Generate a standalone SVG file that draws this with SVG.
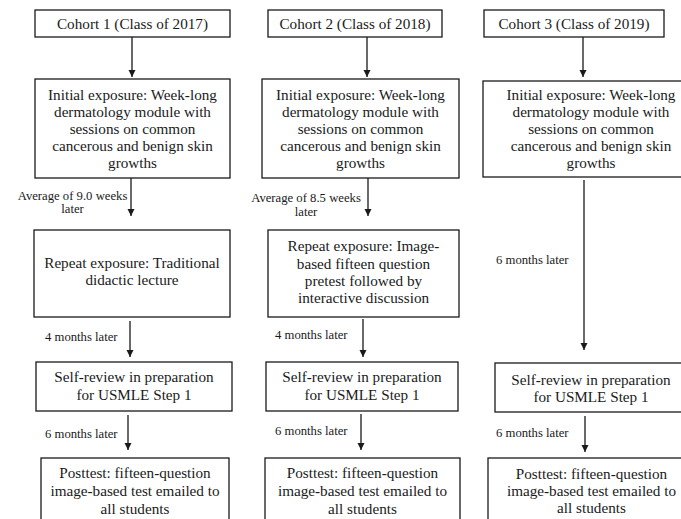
<svg xmlns="http://www.w3.org/2000/svg" width="681" height="519" viewBox="0 0 681 519">
<style>
.box{fill:#fff;stroke:#1a1a1a;stroke-width:1.3}
.t{font-family:'Liberation Serif','Times New Roman','DejaVu Serif',serif;font-size:15.2px;fill:#1a1a1a;text-anchor:middle}
.l{font-family:'Liberation Serif','Times New Roman','DejaVu Serif',serif;font-size:12.7px;fill:#1a1a1a}
.c{stroke:#1a1a1a;stroke-width:1.3;fill:none;marker-end:url(#ah)}
</style>
<defs>
<marker id="ah" markerWidth="8" markerHeight="8" refX="7" refY="4" orient="auto" markerUnits="userSpaceOnUse">
<path d="M0,0.5 L7,4 L0,7.5 Z" fill="#1a1a1a"/>
</marker>
</defs>
<rect width="681" height="519" fill="#fff"/>
<g id="connectors">
<line class="c" x1="132" y1="37" x2="132" y2="77"/>
<line class="c" x1="131" y1="178" x2="131" y2="216"/>
<line class="c" x1="130" y1="321" x2="130" y2="357"/>
<line class="c" x1="128" y1="415" x2="128" y2="450"/>
<line class="c" x1="367" y1="37" x2="367" y2="77"/>
<line class="c" x1="368" y1="178" x2="368" y2="216"/>
<line class="c" x1="363" y1="319" x2="363" y2="357"/>
<line class="c" x1="361" y1="414" x2="361" y2="450"/>
<line class="c" x1="583" y1="37" x2="583" y2="77"/>
<line class="c" x1="584" y1="180" x2="584" y2="350"/>
<line class="c" x1="585" y1="416" x2="585" y2="452"/>
<text class="l" x="72.5" y="200" text-anchor="middle">Average of 9.0 weeks</text>
<text class="l" x="72.5" y="213" text-anchor="middle">later</text>
<text class="l" x="45" y="341">4 months later</text>
<text class="l" x="45" y="438">6 months later</text>
<text class="l" x="306" y="202" text-anchor="middle">Average of 8.5 weeks</text>
<text class="l" x="306" y="216" text-anchor="middle">later</text>
<text class="l" x="275" y="339">4 months later</text>
<text class="l" x="275" y="435">6 months later</text>
<text class="l" x="496" y="264">6 months later</text>
<text class="l" x="496" y="437">6 months later</text>
</g>
<g id="c1-cohort"><rect class="box" x="35" y="10" width="195" height="27"/><text class="t" x="132.5" y="29">Cohort 1 (Class of 2017)</text></g>
<g id="c1-initial"><rect class="box" x="35" y="79" width="195" height="99"/>
<text class="t" x="132.5" y="100">Initial exposure: Week-long</text>
<text class="t" x="132.5" y="117">dermatology module with</text>
<text class="t" x="132.5" y="134">sessions on common</text>
<text class="t" x="132.5" y="151">cancerous and benign skin</text>
<text class="t" x="132.5" y="168">growths</text></g>
<g id="c1-repeat"><rect class="box" x="34" y="230" width="196" height="87"/>
<text class="t" x="132" y="268">Repeat exposure: Traditional</text>
<text class="t" x="132" y="285">didactic lecture</text></g>
<g id="c1-self"><rect class="box" x="36" y="362" width="196" height="49"/>
<text class="t" x="134" y="382">Self-review in preparation</text>
<text class="t" x="134" y="400">for USMLE Step 1</text></g>
<g id="c1-post"><rect class="box" x="41" y="458" width="188" height="80"/>
<text class="t" x="135" y="478">Posttest: fifteen-question</text>
<text class="t" x="135" y="496">image-based test emailed to</text>
<text class="t" x="135" y="514">all students</text></g>
<g id="c2-cohort"><rect class="box" x="268" y="10" width="174" height="27"/><text class="t" x="355" y="29">Cohort 2 (Class of 2018)</text></g>
<g id="c2-initial"><rect class="box" x="262" y="79" width="197" height="99"/>
<text class="t" x="360.5" y="100">Initial exposure: Week-long</text>
<text class="t" x="360.5" y="117">dermatology module with</text>
<text class="t" x="360.5" y="134">sessions on common</text>
<text class="t" x="360.5" y="151">cancerous and benign skin</text>
<text class="t" x="360.5" y="168">growths</text></g>
<g id="c2-repeat"><rect class="box" x="268" y="230" width="191" height="87"/>
<text class="t" x="363.5" y="251">Repeat exposure: Image-</text>
<text class="t" x="363.5" y="268.5">based fifteen question</text>
<text class="t" x="363.5" y="286">pretest followed by</text>
<text class="t" x="363.5" y="303">interactive discussion</text></g>
<g id="c2-self"><rect class="box" x="266" y="362" width="192" height="49"/>
<text class="t" x="362" y="382">Self-review in preparation</text>
<text class="t" x="362" y="400">for USMLE Step 1</text></g>
<g id="c2-post"><rect class="box" x="265" y="458" width="195" height="80"/>
<text class="t" x="362.5" y="478">Posttest: fifteen-question</text>
<text class="t" x="362.5" y="496">image-based test emailed to</text>
<text class="t" x="362.5" y="514">all students</text></g>
<g id="c3-cohort"><rect class="box" x="484" y="10" width="180" height="27"/><text class="t" x="574" y="29">Cohort 3 (Class of 2019)</text></g>
<g id="c3-initial"><rect class="box" x="483" y="81" width="217" height="96"/>
<text class="t" x="591" y="100">Initial exposure: Week-long</text>
<text class="t" x="591" y="117">dermatology module with</text>
<text class="t" x="591" y="134">sessions on common</text>
<text class="t" x="591" y="151">cancerous and benign skin</text>
<text class="t" x="591" y="168">growths</text></g>
<g id="c3-self"><rect class="box" x="495" y="363" width="210" height="49"/>
<text class="t" x="591" y="385">Self-review in preparation</text>
<text class="t" x="591" y="402">for USMLE Step 1</text></g>
<g id="c3-post"><rect class="box" x="488" y="458" width="217" height="80"/>
<text class="t" x="591.5" y="479">Posttest: fifteen-question</text>
<text class="t" x="591.5" y="496">image-based test emailed to</text>
<text class="t" x="591.5" y="513">all students</text></g>
</svg>
